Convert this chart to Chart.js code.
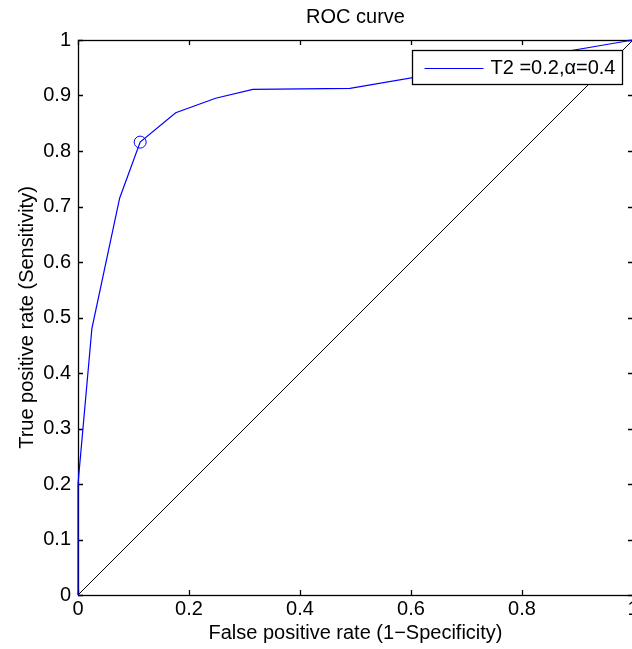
<!DOCTYPE html>
<html><head><meta charset="utf-8">
<script src="https://cdn.jsdelivr.net/npm/chart.js@4/dist/chart.umd.min.js"></script>
<style>
html,body{margin:0;padding:0;background:#fff;overflow:hidden;width:632px;height:649px}
#wrap{position:relative;width:632px;height:649px;overflow:hidden}
canvas{display:block}
</style></head>
<body><div id="wrap"><canvas id="c" width="660" height="649"></canvas></div>
<script>
// ROC curve points (false positive rate, true positive rate)
const fpr = [0, 0, 0.025, 0.075, 0.112, 0.176, 0.248, 0.315, 0.49, 1];
const tpr = [0, 0.2, 0.48, 0.715, 0.816, 0.869, 0.895, 0.911, 0.913, 1];
// marked operating point
const opFpr = [0.112];
const opTpr = [0.816];
// chance diagonal
const diagX = [0, 1];
const diagY = [0, 1];
// tick values
const xTickVals = [0, 0.2, 0.4, 0.6, 0.8, 1];
const yTickVals = [0, 0.1, 0.2, 0.3, 0.4, 0.5, 0.6, 0.7, 0.8, 0.9, 1];
// texts
const seriesLabel = 'T2 =0.2,\u03B1=0.4';
const chartTitle = 'ROC curve';
const xTitle = 'False positive rate (1\u2212Specificity)';
const yTitle = 'True positive rate (Sensitivity)';

const FONT = "'Liberation Sans', Arial, sans-serif";
const FS = 20;
Chart.defaults.font.family = FONT;
Chart.defaults.font.size = FS;
Chart.defaults.color = '#000';

const toXY = (xs, ys) => xs.map((v, i) => ({x: v, y: ys[i]}));

const frame = {
  id: 'frame',
  beforeDatasetsDraw(chart) {
    const {ctx, chartArea: {left, right, top, bottom}, scales: {x, y}} = chart;
    const TL = 5;
    ctx.save();
    ctx.strokeStyle = '#000';
    ctx.lineWidth = 1.3;
    ctx.beginPath();
    x.ticks.forEach(t => {
      const px = Math.round(x.getPixelForValue(t.value)) + 0.5;
      ctx.moveTo(px, bottom); ctx.lineTo(px, bottom - TL);
      ctx.moveTo(px, top); ctx.lineTo(px, top + TL);
    });
    y.ticks.forEach(t => {
      const py = Math.round(y.getPixelForValue(t.value)) + 0.5;
      ctx.moveTo(left, py); ctx.lineTo(left + TL, py);
      ctx.moveTo(right, py); ctx.lineTo(right - TL, py);
    });
    ctx.stroke();
    ctx.strokeRect(Math.round(left) + 0.5, Math.round(top) + 0.5,
                   Math.round(right - left), Math.round(bottom - top));
    ctx.restore();
  },
  afterDraw(chart) {
    const {ctx, chartArea: {right, top}} = chart;
    // legend box (drawn over the data like the original)
    const ds = chart.data.datasets[0];
    ctx.save();
    ctx.lineWidth = 1.3;
    ctx.font = FS + 'px ' + FONT;
    const tw = ctx.measureText(ds.label).width;
    const padL = 12, lineLen = 59, gap = 7, padR = 7, h = 34;
    const w = Math.round(padL + lineLen + gap + tw + padR);
    const bx = Math.round(right - 11 - w) + 0.5;
    const by = Math.round(top + 10) + 0.5;
    ctx.fillStyle = '#fff';
    ctx.fillRect(bx, by, w, h);
    ctx.strokeStyle = '#000';
    ctx.strokeRect(bx, by, w, h);
    const cy = by + h / 2;
    ctx.lineWidth = 1;
    ctx.strokeStyle = ds.borderColor;
    ctx.beginPath();
    ctx.moveTo(bx + padL, Math.round(cy) + 0.5);
    ctx.lineTo(bx + padL + lineLen, Math.round(cy) + 0.5);
    ctx.stroke();
    ctx.fillStyle = '#000';
    ctx.textBaseline = 'middle';
    ctx.textAlign = 'left';
    ctx.fillText(ds.label, bx + padL + lineLen + gap, cy + 1);
    ctx.restore();
  }
};

new Chart(document.getElementById('c'), {
  type: 'scatter',
  data: {
    datasets: [
      {label: seriesLabel, data: toXY(fpr, tpr), showLine: true, borderColor: '#0000ff',
       borderWidth: 1.2, pointRadius: 0, fill: false, tension: 0, order: 1, clip: 3},
      {label: 'operating point', data: toXY(opFpr, opTpr), showLine: false, borderColor: '#0000ff',
       backgroundColor: 'rgba(0,0,0,0)', borderWidth: 1, pointRadius: 6, pointStyle: 'circle', order: 0},
      {label: 'chance', data: toXY(diagX, diagY), showLine: true, borderColor: '#000',
       borderWidth: 1, pointRadius: 0, fill: false, order: 2}
    ]
  },
  options: {
    responsive: false,
    animation: false,
    layout: {padding: {left: 0, right: 27, top: 0, bottom: 0}},
    plugins: {
      legend: {display: false},
      tooltip: {enabled: false},
      title: {display: false}
    },
    scales: {
      x: {
        type: 'linear', min: 0, max: 1,
        afterBuildTicks: s => { s.ticks = xTickVals.map(v => ({value: v})); },
        afterFit: s => { s.height = 54; },
        ticks: {callback: v => String(v), padding: 2, maxRotation: 0, autoSkip: false, color: '#000'},
        grid: {display: false, drawTicks: false, tickLength: 0},
        border: {display: false},
        title: {display: true, text: xTitle, color: '#000', padding: {top: 4, bottom: 4}}
      },
      x2: {
        type: 'linear', position: 'top', min: 0, max: 1,
        afterFit: s => { s.height = 40; },
        ticks: {display: false},
        grid: {display: false, drawTicks: false, tickLength: 0},
        border: {display: false},
        title: {display: true, text: chartTitle, color: '#000', padding: {top: 5, bottom: 5}}
      },
      y: {
        type: 'linear', min: 0, max: 1,
        afterBuildTicks: s => { s.ticks = yTickVals.map(v => ({value: v})); },
        afterFit: s => { s.width = 78; },
        ticks: {callback: v => String(v), padding: 7, autoSkip: false, color: '#000'},
        grid: {display: false, drawTicks: false, tickLength: 0},
        border: {display: false},
        title: {display: true, text: yTitle, color: '#000', padding: {top: 15, bottom: 15}}
      }
    }
  },
  plugins: [frame]
});
</script>
</body></html>
